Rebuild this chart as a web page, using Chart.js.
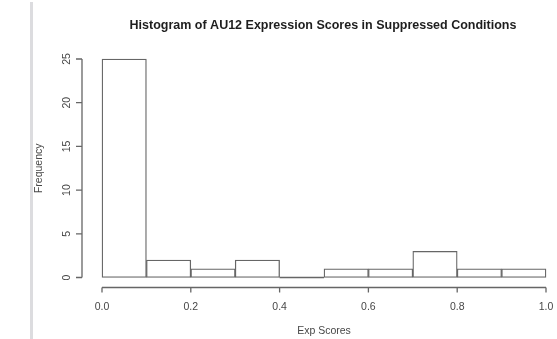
<!DOCTYPE html>
<html>
<head>
<meta charset="utf-8">
<script src="https://cdn.jsdelivr.net/npm/chart.js@4/dist/chart.umd.min.js"></script>
<style>
  html, body { margin: 0; padding: 0; background: #fff; }
  #wrap { position: relative; width: 557px; height: 339px; }
  #edge { position: absolute; left: 30px; top: 2px; width: 3px; height: 337px; background: #dcdcdf; }
  canvas { position: absolute; left: 0; top: 0; }
</style>
</head>
<body>
<div id="wrap">
  <div id="edge"></div>
  <canvas id="hist" width="557" height="339"></canvas>
</div>
<script>
// Histogram bins (lower edges) and counts
const binLower = [0.0, 0.1, 0.2, 0.3, 0.4, 0.5, 0.6, 0.7, 0.8, 0.9];
const binWidth = 0.1;
const frequencies = [25, 2, 1, 2, 0, 1, 1, 3, 1, 1];
const xTicks = [0.0, 0.2, 0.4, 0.6, 0.8, 1.0];
const xTickLabels = ['0.0', '0.2', '0.4', '0.6', '0.8', '1.0'];
const yTicks = [0, 5, 10, 15, 20, 25];
const yTickLabels = ['0', '5', '10', '15', '20', '25'];

const chartTitle = 'Histogram of AU12 Expression Scores in Suppressed Conditions';
const xTitle = 'Exp Scores';
const yTitle = 'Frequency';

const points = binLower.map((lo, i) => ({ x: lo + binWidth / 2, y: frequencies[i] }));

const FONT = '"Liberation Sans", Arial, sans-serif';
const AXIS_COLOR = '#666666';
const TEXT_COLOR = '#474747';

// Empty bins still get a flat edge along the baseline
const emptyBins = {
  id: 'emptyBins',
  afterDatasetsDraw(chart) {
    const { ctx, scales: { x, y } } = chart;
    const py = y.getPixelForValue(0);
    ctx.save();
    ctx.strokeStyle = AXIS_COLOR;
    ctx.lineWidth = 1.3;
    ctx.beginPath();
    frequencies.forEach((f, i) => {
      if (f === 0) {
        ctx.moveTo(x.getPixelForValue(binLower[i]), py);
        ctx.lineTo(x.getPixelForValue(binLower[i] + binWidth), py);
      }
    });
    ctx.stroke();
    ctx.restore();
  }
};

// Base-graphics style axes: detached lines spanning first to last tick
const baseAxes = {
  id: 'baseAxes',
  afterDraw(chart) {
    const { ctx, scales: { x, y } } = chart;
    const area = chart.chartArea;
    ctx.save();
    ctx.strokeStyle = AXIS_COLOR;
    ctx.lineWidth = 1.3;

    // x axis
    const xAxisY = area.bottom + 10;
    const x0 = x.getPixelForValue(xTicks[0]);
    const x1 = x.getPixelForValue(xTicks[xTicks.length - 1]);
    ctx.beginPath();
    ctx.moveTo(x0, xAxisY);
    ctx.lineTo(x1, xAxisY);
    xTicks.forEach(v => {
      const px = x.getPixelForValue(v);
      ctx.moveTo(px, xAxisY);
      ctx.lineTo(px, xAxisY + 5);
    });
    ctx.stroke();

    // y axis
    const yAxisX = area.left - 20;
    const y0 = y.getPixelForValue(yTicks[0]);
    const y1 = y.getPixelForValue(yTicks[yTicks.length - 1]);
    ctx.beginPath();
    ctx.moveTo(yAxisX, y0);
    ctx.lineTo(yAxisX, y1);
    yTicks.forEach(v => {
      const py = y.getPixelForValue(v);
      ctx.moveTo(yAxisX, py);
      ctx.lineTo(yAxisX - 6, py);
    });
    ctx.stroke();

    // tick labels
    ctx.fillStyle = TEXT_COLOR;
    ctx.font = '10.5px ' + FONT;
    ctx.textAlign = 'center';
    ctx.textBaseline = 'middle';
    xTicks.forEach((v, i) => {
      ctx.fillText(xTickLabels[i], x.getPixelForValue(v), xAxisY + 20);
    });
    yTicks.forEach((v, i) => {
      ctx.save();
      ctx.translate(yAxisX - 15, y.getPixelForValue(v));
      ctx.rotate(-Math.PI / 2);
      ctx.fillText(yTickLabels[i], 0, 0);
      ctx.restore();
    });

    // axis titles
    ctx.fillText(xTitle, (area.left + area.right) / 2, 331);
    ctx.save();
    ctx.translate(39, (area.top + area.bottom) / 2);
    ctx.rotate(-Math.PI / 2);
    ctx.fillText(yTitle, 0, 0);
    ctx.restore();

    // main title
    ctx.fillStyle = '#1e1e1e';
    ctx.font = 'bold 12.5px ' + FONT;
    ctx.fillText(chartTitle, (area.left + area.right) / 2 - 1, 26);
    ctx.restore();
  }
};

new Chart(document.getElementById('hist'), {
  type: 'bar',
  data: {
    datasets: [{
      data: points,
      backgroundColor: '#ffffff',
      borderColor: AXIS_COLOR,
      borderWidth: 1.3,
      borderSkipped: false,
      barPercentage: 1,
      categoryPercentage: 1,
      clip: false
    }]
  },
  options: {
    responsive: false,
    animation: false,
    layout: { padding: { left: 102, right: 11, top: 59, bottom: 61.5 } },
    plugins: { legend: { display: false }, tooltip: { enabled: false }, title: { display: false } },
    scales: {
      x: { type: 'linear', min: 0, max: 1, offset: false, display: false },
      y: { type: 'linear', min: 0, max: 25, display: false }
    }
  },
  plugins: [emptyBins, baseAxes]
});
</script>
</body>
</html>
